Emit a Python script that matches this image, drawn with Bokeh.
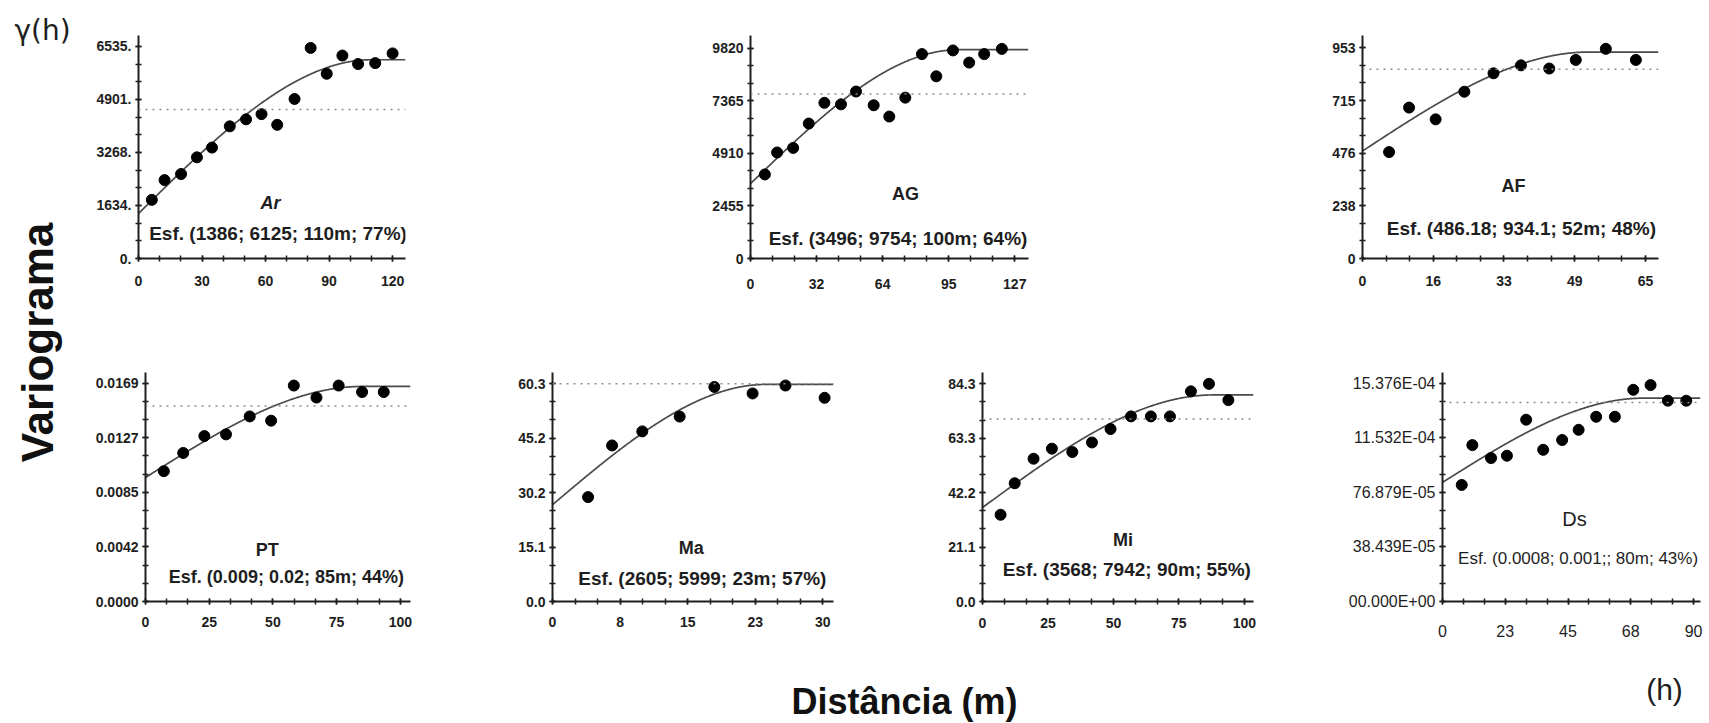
import numpy as np
from bokeh.plotting import figure
from bokeh.models import Range1d, FixedTicker, Span, Label
from bokeh.layouts import row, column
from bokeh.embed import file_html
from bokeh.resources import INLINE

# ---------------- data ----------------
# Ar
ar_h = [6.3, 12.3, 20.1, 27.6, 34.7, 43.1, 50.8, 58.1, 65.5, 73.7, 81.3, 88.9, 96.3, 103.7, 111.8, 120.0]
ar_g = [1807, 2416, 2603, 3118, 3418, 4073, 4288, 4448, 4120, 4916, 6489, 5693, 6255, 5993, 6021, 6320]
ar_model = [1386, 6125, 110]          # nugget, sill, range
ar_var = 4588
ar_xticks = [0, 30, 60, 90, 120]
ar_xlabels = ["0", "30", "60", "90", "120"]
ar_yticks = [0, 1633.75, 3267.5, 4901.25, 6535]
ar_ylabels = ["0.", "1634.", "3268.", "4901.", "6535."]
ar_text = "Esf. (1386; 6125; 110m; 77%)"

# AG
ag_h = [6.9, 12.8, 20.5, 28.0, 35.5, 43.5, 50.7, 59.2, 66.7, 74.4, 82.4, 89.3, 97.3, 105.1, 112.3, 120.8]
ag_g = [3928, 4953, 5166, 6305, 7273, 7202, 7800, 7159, 6632, 7515, 9550, 8511, 9721, 9152, 9550, 9792]
ag_model = [3496, 9754, 100]
ag_var = 7686
ag_xticks = [0, 31.75, 63.5, 95.25, 127]
ag_xlabels = ["0", "32", "64", "95", "127"]
ag_yticks = [0, 2455, 4910, 7365, 9820]
ag_ylabels = ["0", "2455", "4910", "7365", "9820"]
ag_text = "Esf. (3496; 9754; 100m; 64%)"

# AF
af_h = [6.1, 10.7, 16.8, 23.4, 30.1, 36.4, 42.9, 49.0, 55.9, 62.8]
af_g = [481.5, 682.8, 629.6, 754.6, 838.0, 874.0, 859.6, 898.4, 948.7, 898.4]
af_model = [486.18, 934.1, 52]
af_var = 856.7
af_xticks = [0, 16.25, 32.5, 48.75, 65]
af_xlabels = ["0", "16", "33", "49", "65"]
af_yticks = [0, 238.25, 476.5, 714.75, 953]
af_ylabels = ["0", "238", "476", "715", "953"]
af_text = "Esf. (486.18; 934.1; 52m; 48%)"

# PT
pt_h = [7.2, 14.8, 23.1, 31.6, 40.9, 49.3, 58.2, 67.1, 75.8, 85.0, 93.5]
pt_g = [0.01009, 0.01150, 0.01281, 0.01294, 0.01433, 0.01400, 0.01672, 0.01579, 0.01672, 0.01622, 0.01622]
pt_model = [0.0096, 0.01665, 85]
pt_var = 0.01513
pt_xticks = [0, 25, 50, 75, 100]
pt_xlabels = ["0", "25", "50", "75", "100"]
pt_yticks = [0, 0.004225, 0.00845, 0.012675, 0.0169]
pt_ylabels = ["0.0000", "0.0042", "0.0085", "0.0127", "0.0169"]
pt_text = "Esf. (0.009; 0.02; 85m; 44%)"

# Ma
ma_h = [4.0, 6.7, 10.1, 14.3, 18.2, 22.5, 26.2, 30.6]
ma_g = [28.9, 43.2, 47.1, 51.2, 59.4, 57.6, 59.8, 56.4]
ma_model = [26.8, 60.1, 24]
ma_var = 60.3
ma_xticks = [0, 7.6, 15.2, 22.8, 30.4]
ma_xlabels = ["0", "8", "15", "23", "30"]
ma_yticks = [0, 15.075, 30.15, 45.225, 60.3]
ma_ylabels = ["0.0", "15.1", "30.2", "45.2", "60.3"]
ma_text = "Esf. (2605; 5999; 23m; 57%)"

# Mi
mi_h = [6.9, 12.3, 19.5, 26.5, 34.3, 41.8, 48.9, 56.7, 64.3, 71.6, 79.6, 86.5, 93.9]
mi_g = [33.6, 45.8, 55.3, 59.2, 57.9, 61.6, 66.8, 71.7, 71.7, 71.7, 81.4, 84.3, 78.0]
mi_model = [36.4, 80.0, 88]
mi_var = 70.7
mi_xticks = [0, 25, 50, 75, 100]
mi_xlabels = ["0", "25", "50", "75", "100"]
mi_yticks = [0, 21.075, 42.15, 63.225, 84.3]
mi_ylabels = ["0.0", "21.1", "42.2", "63.3", "84.3"]
mi_text = "Esf. (3568; 7942; 90m; 55%)"

# Ds
ds_h = [6.9, 10.7, 17.4, 23.1, 30.0, 36.1, 42.9, 48.8, 55.1, 61.8, 68.4, 74.6, 80.8, 87.4]
ds_g = [0.000822, 0.001103, 0.001012, 0.001028, 0.001282, 0.001070, 0.001139, 0.001211,
        0.001303, 0.001303, 0.001493, 0.001526, 0.001416, 0.001416]
ds_model = [0.00084, 0.001434, 72]
ds_var = 0.001404
ds_xticks = [0, 22.5, 45, 67.5, 90]
ds_xlabels = ["0", "23", "45", "68", "90"]
ds_yticks = [0, 0.00038439, 0.00076879, 0.0011532, 0.0015376]
ds_ylabels = ["00.000E+00", "38.439E-05", "76.879E-05", "11.532E-04", "15.376E-04"]
ds_text = "Esf. (0.0008; 0.001;; 80m; 43%)"

y_title = "Variograma"
x_title = "Distância (m)"
gamma_title = "γ(h)"
h_title = "(h)"

FONT = "Liberation Sans"


def spherical(h, c0, c, a):
    r = np.asarray(h) / a
    return np.where(r < 1, c0 + (c - c0) * (1.5 * r - 0.5 * r ** 3), c)


def panel(name, h, g, model, var, xt, xl, yt, yl, txt,
          W, H, bl, br, bt, bb, xmax, ymax, name_xy, txt_xy,
          xstand, bold=True, tick_px="14px", txt_px="19px", name_px="18px",
          name_style=None):
    p = figure(width=W, height=H, x_range=Range1d(0, xmax), y_range=Range1d(0, ymax),
               output_backend="svg", toolbar_location=None,
               min_border_left=bl, min_border_right=br, min_border_top=bt, min_border_bottom=bb)
    p.outline_line_color = None
    p.xgrid.visible = False
    p.ygrid.visible = False
    p.background_fill_color = "white"
    p.border_fill_color = "white"

    style = "bold" if bold else "normal"
    xstep = (xt[1] - xt[0]) / 3.0
    ystep = (yt[1] - yt[0]) / 3.0
    xminor = list(np.arange(0, xmax + 1e-9, xstep))
    yminor = list(np.arange(0, ymax + 1e-12, ystep))
    p.xaxis.ticker = FixedTicker(ticks=xt, minor_ticks=xminor)
    p.yaxis.ticker = FixedTicker(ticks=yt, minor_ticks=yminor)
    p.xaxis.major_label_overrides = {t: l for t, l in zip(xt, xl)}
    p.yaxis.major_label_overrides = {t: l for t, l in zip(yt, yl)}
    for ax in (p.xaxis[0], p.yaxis[0]):
        ax.axis_line_color = "#1e1e1e"
        ax.axis_line_width = 2
        ax.major_tick_in = 3
        ax.major_tick_out = 3
        ax.minor_tick_in = 3
        ax.minor_tick_out = 3
        ax.major_tick_line_color = "#1e1e1e"
        ax.minor_tick_line_color = "#1e1e1e"
        ax.major_tick_line_width = 1.5
        ax.minor_tick_line_width = 1.5
        ax.major_label_text_font = FONT
        ax.major_label_text_font_size = tick_px
        ax.major_label_text_font_style = style
        ax.major_label_text_color = "#1e1e1e"
    p.xaxis.major_label_standoff = xstand
    p.yaxis.major_label_standoff = 4

    p.add_layout(Span(location=var, dimension="width", line_color="#8c8c8c",
                      line_dash="2 5", line_width=1.5))
    hx = np.linspace(0, xmax, 400)
    p.line(hx, spherical(hx, *model), line_color="#4a4a4a", line_width=1.7)
    p.scatter(h, g, size=11, color="black")

    p.add_layout(Label(x=name_xy[0], y=name_xy[1], text=name, text_align="center",
                       text_baseline="middle", text_font=FONT, text_font_size=name_px,
                       text_font_style=name_style or style, text_color="#1e1e1e"))
    p.add_layout(Label(x=txt_xy[0], y=txt_xy[1], text=txt, text_align="center",
                       text_baseline="middle", text_font=FONT, text_font_size=txt_px,
                       text_font_style=style, text_color="#1e1e1e"))
    return p


TOP_H = 310
BOT_H = 340
LBL_H = 73
LEFT_W = 85

p_ar = panel("Ar", ar_h, ar_g, ar_model, ar_var, ar_xticks, ar_xlabels, ar_yticks, ar_ylabels, ar_text,
             475, TOP_H, 53, 155, 13, 52, 126.1, 6872, (62.4, 1711), (65.9, 785), 14,
             name_style="bold italic")
p_ag = panel("AG", ag_h, ag_g, ag_model, ag_var, ag_xticks, ag_xlabels, ag_yticks, ag_ylabels, ag_text,
             640, TOP_H, 190, 172, 25, 41, 133.6, 10418, (74.5, 3031), (70.9, 939), 17)
p_af = panel("AF", af_h, af_g, af_model, af_var, af_xticks, af_xlabels, af_yticks, af_ylabels, af_text,
             509, TOP_H, 162, 51, 35, 41, 68.0, 1009, (34.7, 327.7), (36.5, 138), 14)

p_pt = panel("PT", pt_h, pt_g, pt_model, pt_var, pt_xticks, pt_xlabels, pt_yticks, pt_ylabels, pt_text,
             395, BOT_H, 60, 70, 58, 47, 104.0, 0.01773, (47.8, 0.0040), (55.3, 0.001886), 12,
             txt_px="18px")
p_ma = panel("Ma", ma_h, ma_g, ma_model, ma_var, ma_xticks, ma_xlabels, ma_yticks, ma_ylabels, ma_text,
             420, BOT_H, 72, 67, 50, 45, 31.6, 63.4, (15.6, 14.75), (16.85, 6.47), 12)
p_mi = panel("Mi", mi_h, mi_g, mi_model, mi_var, mi_xticks, mi_xlabels, mi_yticks, mi_ylabels, mi_text,
             410, BOT_H, 82, 57, 52, 44, 103.5, 88.7, (53.7, 24.0), (55.1, 12.35), 13)
p_ds = panel("Ds", ds_h, ds_g, ds_model, ds_var, ds_xticks, ds_xlabels, ds_yticks, ds_ylabels, ds_text,
             399, BOT_H, 132, 9, 62, 49, 92.5, 0.001615, (47.3, 0.000585), (48.6, 0.000303), 20,
             bold=False, tick_px="16px", txt_px="17px", name_px="20px")


def blank(W, H):
    f = figure(width=W, height=H, x_range=Range1d(0, W), y_range=Range1d(H, 0),
               x_axis_type=None, y_axis_type=None, output_backend="svg", toolbar_location=None,
               min_border=0)
    f.outline_line_color = None
    f.xgrid.visible = False
    f.ygrid.visible = False
    return f


left = blank(LEFT_W, 723)
left.add_layout(Label(x=42, y=30, text=gamma_title, text_align="center", text_baseline="middle",
                      text_font="DejaVu Sans", text_font_size="28px", text_color="#1e1e1e"))
left.add_layout(Label(x=37, y=342, text=y_title, angle=np.pi / 2, text_align="center",
                      text_baseline="middle", text_font=FONT, text_font_size="44px",
                      text_font_style="bold", text_color="#111111"))

bottom = blank(1709 - LEFT_W, LBL_H)
bottom.add_layout(Label(x=819, y=51, text=x_title, text_align="center", text_baseline="middle",
                        text_font=FONT, text_font_size="36px", text_font_style="bold",
                        text_color="#111111"))
bottom.add_layout(Label(x=1579, y=39, text=h_title, text_align="center", text_baseline="middle",
                        text_font=FONT, text_font_size="30px", text_color="#1e1e1e"))

layout = row(left, column(row(p_ar, p_ag, p_af), row(p_pt, p_ma, p_mi, p_ds), bottom))

open("out.html", "w").write(file_html(layout, INLINE))
